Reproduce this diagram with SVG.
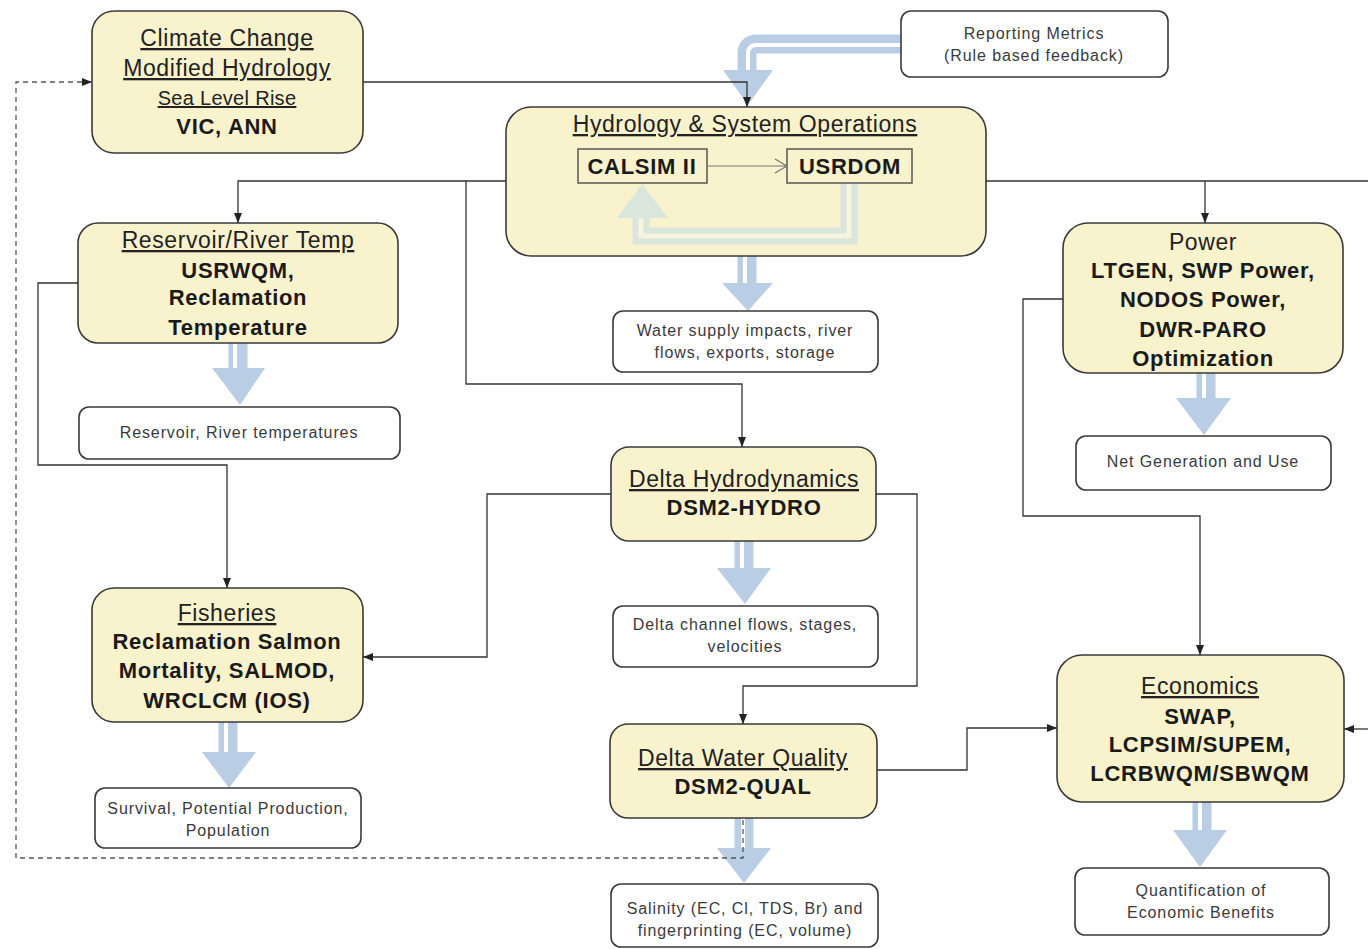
<svg xmlns="http://www.w3.org/2000/svg" width="1368" height="949" viewBox="0 0 1368 949">
<style>
.node{fill:#f9f3cd;stroke:#3a3a3a;stroke-width:1.6}
.out{fill:#fff;stroke:#3a3a3a;stroke-width:1.6}
.inbox{fill:#f9f3cd;stroke:#555;stroke-width:1.5}
.conn{fill:none;stroke:#333;stroke-width:1.3}
.dash{fill:none;stroke:#555;stroke-width:1.3;stroke-dasharray:5 4}
.shaft{fill:none;stroke:#b9cde5;stroke-width:19}
.stripe{fill:none;stroke:#fff;stroke-width:4}
.head{fill:#b9cde5}
.fshaft{fill:none;stroke:#d9e6dc;stroke-width:17}
.fstripe{fill:none;stroke:#f6f4de;stroke-width:5}
.fhead{fill:#d9e6dc}
.t{font-family:"Liberation Sans",Arial,sans-serif;text-anchor:middle}
.ttl{font-size:23px;letter-spacing:0.6px;fill:#222}
.sm{font-size:20px;letter-spacing:0.3px;fill:#222}
.u{text-decoration:underline}
.b{font-size:22px;font-weight:bold;letter-spacing:0.7px;fill:#1a1a1a}
.s{font-size:16px;letter-spacing:0.9px;fill:#3a3a3a}
</style>
<defs>
<marker id="ah" markerWidth="10" markerHeight="8" refX="10" refY="4" orient="auto" markerUnits="userSpaceOnUse">
<path d="M0,0 L10,4 L0,8 z" fill="#222"/>
</marker>
</defs>
<rect width="1368" height="949" fill="#fff"/>

<!-- big blue arrows -->
<g id="blue-arrows">
<g id="ba-report"><path class="shaft" d="M901 44 H757 Q747 44 747 54 V72"/><path class="stripe" d="M901 45 H757 Q748 45 748 54 V72"/><polygon class="head" points="723,70 773,70 748,105"/></g>
<g id="ba-hydro"><path class="shaft" d="M747 256 V284"/><path class="stripe" d="M745 256 V284"/><polygon class="head" points="722,283 773,283 748,311"/></g>
<g id="ba-res"><path class="shaft" d="M238 343 V369"/><path class="stripe" d="M235 343 V369"/><polygon class="head" points="212,368 265,368 240,405"/></g>
<g id="ba-power"><path class="shaft" d="M1206 373 V399"/><path class="stripe" d="M1204 373 V399"/><polygon class="head" points="1176,398 1231,398 1204,435"/></g>
<g id="ba-dh"><path class="shaft" d="M744 541 V569"/><path class="stripe" d="M742 541 V569"/><polygon class="head" points="717,568 771,568 745,604"/></g>
<g id="ba-fish"><path class="shaft" d="M228 722 V753"/><path class="stripe" d="M226 722 V753"/><polygon class="head" points="202,752 256,752 229,788"/></g>
<g id="ba-dwq"><path class="shaft" d="M744 818 V849"/><path class="stripe" d="M743 818 V849"/><polygon class="head" points="717,848 771,848 744,883"/></g>
<g id="ba-econ"><path class="shaft" d="M1202 802 V831"/><path class="stripe" d="M1200 802 V831"/><polygon class="head" points="1173,830 1227,830 1200,867"/></g>
</g>

<!-- nodes -->
<g id="climate">
<rect class="node" x="92" y="11" width="271" height="142" rx="22"/>
<text class="t ttl u" x="227" y="46">Climate Change</text>
<text class="t ttl u" x="227" y="76">Modified Hydrology</text>
<text class="t sm u" x="227" y="105">Sea Level Rise</text>
<text class="t b" x="227" y="134">VIC, ANN</text>
</g>

<g id="reporting">
<rect class="out" x="901" y="11" width="267" height="66" rx="10"/>
<text class="t s" x="1034" y="39">Reporting Metrics</text>
<text class="t s" x="1034" y="61">(Rule based feedback)</text>
</g>

<g id="hydrology">
<rect class="node" x="506" y="107" width="480" height="149" rx="25"/>
<text class="t ttl u" x="745" y="132">Hydrology &amp; System Operations</text>
<path class="fshaft" d="M849 183 V236 H641 V216"/>
<path class="fstripe" d="M849 183 V236 H641 V216"/>
<polygon class="fhead" points="617,218 668,218 642,184"/>
<rect class="inbox" x="578" y="149" width="129" height="34"/>
<rect class="inbox" x="787" y="149" width="125" height="34"/>
<text class="t b" x="642" y="174">CALSIM II</text>
<text class="t b" x="850" y="174">USRDOM</text>
<path d="M707 166 H786 M775 159 L787 166 L775 173" fill="none" stroke="#777" stroke-width="1.2"/>
</g>

<g id="reservoir">
<rect class="node" x="78" y="223" width="320" height="120" rx="20"/>
<text class="t ttl u" x="238" y="248">Reservoir/River Temp</text>
<text class="t b" x="238" y="278">USRWQM,</text>
<text class="t b" x="238" y="305">Reclamation</text>
<text class="t b" x="238" y="335">Temperature</text>
</g>
<g id="reservoir-out">
<rect class="out" x="79" y="407" width="321" height="52" rx="10"/>
<text class="t s" x="239" y="438">Reservoir, River temperatures</text>
</g>

<g id="water-out">
<rect class="out" x="613" y="311" width="265" height="61" rx="10"/>
<text class="t s" x="745" y="336">Water supply impacts, river</text>
<text class="t s" x="745" y="358">flows, exports, storage</text>
</g>

<g id="power">
<rect class="node" x="1063" y="223" width="280" height="150" rx="25"/>
<text class="t ttl" x="1203" y="250">Power</text>
<text class="t b" x="1203" y="278">LTGEN, SWP Power,</text>
<text class="t b" x="1203" y="307">NODOS Power,</text>
<text class="t b" x="1203" y="337">DWR-PARO</text>
<text class="t b" x="1203" y="366">Optimization</text>
</g>
<g id="power-out">
<rect class="out" x="1076" y="436" width="255" height="54" rx="10"/>
<text class="t s" x="1203" y="467">Net Generation and Use</text>
</g>

<g id="delta-hydro">
<rect class="node" x="611" y="447" width="265" height="94" rx="18"/>
<text class="t ttl u" x="744" y="487">Delta Hydrodynamics</text>
<text class="t b" x="744" y="515">DSM2-HYDRO</text>
</g>
<g id="delta-hydro-out">
<rect class="out" x="613" y="606" width="265" height="61" rx="10"/>
<text class="t s" x="745" y="630">Delta channel flows, stages,</text>
<text class="t s" x="745" y="652">velocities</text>
</g>

<g id="fisheries">
<rect class="node" x="92" y="588" width="271" height="134" rx="22"/>
<text class="t ttl u" x="227" y="621">Fisheries</text>
<text class="t b" x="227" y="649">Reclamation Salmon</text>
<text class="t b" x="227" y="678">Mortality, SALMOD,</text>
<text class="t b" x="227" y="708">WRCLCM (IOS)</text>
</g>
<g id="fisheries-out">
<rect class="out" x="95" y="788" width="266" height="60" rx="10"/>
<text class="t s" x="228" y="814">Survival, Potential Production,</text>
<text class="t s" x="228" y="836">Population</text>
</g>

<g id="delta-wq">
<rect class="node" x="610" y="724" width="267" height="94" rx="18"/>
<text class="t ttl u" x="743" y="766">Delta Water Quality</text>
<text class="t b" x="743" y="794">DSM2-QUAL</text>
</g>
<g id="delta-wq-out">
<rect class="out" x="611" y="884" width="267" height="63" rx="10"/>
<text class="t s" x="745" y="914">Salinity (EC, Cl, TDS, Br) and</text>
<text class="t s" x="745" y="936">fingerprinting (EC, volume)</text>
</g>

<g id="economics">
<rect class="node" x="1057" y="655" width="287" height="147" rx="25"/>
<text class="t ttl u" x="1200" y="694">Economics</text>
<text class="t b" x="1200" y="724">SWAP,</text>
<text class="t b" x="1200" y="752">LCPSIM/SUPEM,</text>
<text class="t b" x="1200" y="781">LCRBWQM/SBWQM</text>
</g>
<g id="economics-out">
<rect class="out" x="1075" y="868" width="254" height="67" rx="10"/>
<text class="t s" x="1201" y="896">Quantification of</text>
<text class="t s" x="1201" y="918">Economic Benefits</text>
</g>

<!-- connectors -->
<g id="connectors">
<path class="conn" d="M363 82 H747 V107" marker-end="url(#ah)"/>
<path class="conn" d="M506 181 H238 V223" marker-end="url(#ah)"/>
<path class="conn" d="M466 181 V384 H742 V447" marker-end="url(#ah)"/>
<path class="conn" d="M986 181 H1370"/>
<path class="conn" d="M1205 181 V223" marker-end="url(#ah)"/>
<path class="conn" d="M1370 729 H1344" marker-end="url(#ah)"/>
<path class="conn" d="M78 283 H38 V465 H227 V588" marker-end="url(#ah)"/>
<path class="conn" d="M611 494 H487 V657 H363" marker-end="url(#ah)"/>
<path class="conn" d="M876 494 H917 V686 H743 V724" marker-end="url(#ah)"/>
<path class="conn" d="M877 770 H967 V728 H1057" marker-end="url(#ah)"/>
<path class="conn" d="M1063 299 H1023 V516 H1200 V655" marker-end="url(#ah)"/>
<path class="dash" d="M743 820 V858 H16 V82 H92" marker-end="url(#ah)"/>
</g>
</svg>
